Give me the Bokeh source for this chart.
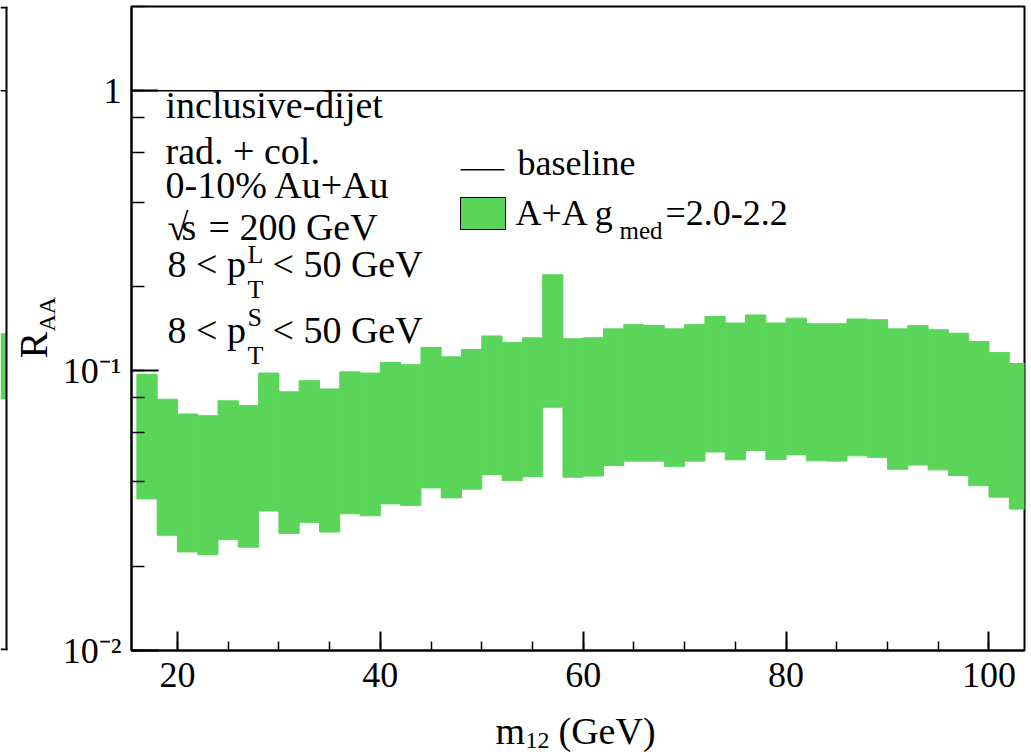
import math
from bokeh.plotting import figure
from bokeh.layouts import row, column
from bokeh.models import Range1d, Label, BoxAnnotation, Span, SingleIntervalTicker, LogTicker
from bokeh.embed import file_html
from bokeh.resources import INLINE

# ---------------- data ----------------
m_lo = [16, 18, 20, 22, 24, 26, 28, 30, 32, 34, 36, 38, 40, 42, 44, 46, 48, 50, 52, 54, 56, 58,
        60, 62, 64, 66, 68, 70, 72, 74, 76, 78, 80, 82, 84, 86, 88, 90, 92, 94, 96, 98, 100, 102]
m_hi = [18, 20, 22, 24, 26, 28, 30, 32, 34, 36, 38, 40, 42, 44, 46, 48, 50, 52, 54, 56, 58, 60,
        62, 64, 66, 68, 70, 72, 74, 76, 78, 80, 82, 84, 86, 88, 90, 92, 94, 96, 98, 100, 102, 104]
raa_hi = [0.097, 0.079, 0.070, 0.069, 0.078, 0.075, 0.098, 0.084, 0.092, 0.086, 0.099, 0.098,
          0.107, 0.105, 0.121, 0.112, 0.119, 0.133, 0.126, 0.131, 0.220, 0.130,
          0.131, 0.141, 0.146, 0.145, 0.141, 0.146, 0.156, 0.148, 0.158, 0.148, 0.154,
          0.147, 0.147, 0.153, 0.152, 0.141, 0.145, 0.140, 0.136, 0.127, 0.116, 0.106]
raa_lo = [0.0348, 0.0258, 0.0225, 0.0220, 0.0249, 0.0234, 0.0315, 0.0262, 0.0287, 0.0265, 0.0308, 0.0303,
          0.0334, 0.0330, 0.0381, 0.0351, 0.0377, 0.0425, 0.0405, 0.0418, 0.0740, 0.0416,
          0.0420, 0.0458, 0.0475, 0.0475, 0.0455, 0.0475, 0.0512, 0.0480, 0.0518, 0.0481, 0.0501,
          0.0476, 0.0475, 0.0496, 0.0490, 0.0444, 0.0460, 0.0442, 0.0422, 0.0388, 0.0353, 0.0320]
baseline_raa = [1.0, 1.0]
x_limits = [15.47, 103.5]
y_limits = [0.01, 2.0]
x_major_interval = 20
y_tick_labels = {0.01: "10⁻²", 0.1: "10⁻¹", 1: "1"}
# neighbouring (cropped) panel at the far left
left_panel_lo = [0.079]
left_panel_hi = [0.136]

GREEN = "#5AD55A"
FONT = "Liberation Serif"

# ---------------- geometry (window pixels) ----------------
W, H = 1031, 756
ROW_H = 705                 # height of the upper row (plot panels)
SIDE_W = 59                 # left strip: cropped neighbour panel + y title
FRAME_L, FRAME_R, FRAME_T, FRAME_B = 129, 1024, 6, 650
BASE_FIX_H = 0.41           # empirical baseline correction (fraction of font size)
BASE_FIX_V = 0.31


def txt(fig, s, x, y, size, fl, fb, vertical=False):
    """text whose baseline starts at window pixel (x, y); fl/fb = window position of fig's frame left/bottom"""
    if vertical:
        x = x - BASE_FIX_V * size
        angle = math.pi / 2
    else:
        y = y - BASE_FIX_H * size
        angle = 0.0
    fig.add_layout(Label(x=x - fl, y=fb - y, x_units="screen", y_units="screen",
                         text=s, text_font=FONT, text_font_size=f"{size}px", text_color="black",
                         text_align="left", text_baseline="alphabetic", angle=angle))


def box(fig, l, t, r, b, fl, fb, fill, line=None, lw=1):
    fig.add_layout(BoxAnnotation(left=l - fl, right=r - fl, top=fb - t, bottom=fb - b,
                                 left_units="screen", right_units="screen",
                                 top_units="screen", bottom_units="screen",
                                 fill_color=fill, fill_alpha=1.0,
                                 line_color=line, line_width=lw, line_alpha=1.0 if line else 0.0))


# ---------------- left strip: cropped neighbour panel + y-axis title ----------------
ps = figure(width=SIDE_W, height=ROW_H, x_range=Range1d(0, SIDE_W), y_range=Range1d(*y_limits),
            y_axis_type="log", output_backend="svg", toolbar_location=None,
            x_axis_location=None, y_axis_location=None,
            min_border_left=0, min_border_right=0, min_border_top=FRAME_T, min_border_bottom=ROW_H - FRAME_B)
ps.grid.visible = False
ps.outline_line_color = None
ps.background_fill_color = "white"
ps.border_fill_color = "white"
ps.quad(left=[0], right=[6], bottom=left_panel_lo, top=left_panel_hi, fill_color=GREEN, line_color=None)
ps.line(x=[0, 6], y=baseline_raa, line_color="black", line_width=1.5)
ps.add_layout(Span(location=6, dimension="height", line_color="black", line_width=2))
box(ps, 0, FRAME_T, 7, FRAME_T + 2, 0, FRAME_B, "black")
box(ps, 0, FRAME_B - 2, 7, FRAME_B, 0, FRAME_B, "black")
txt(ps, "R", 45, 358, 40, 0, FRAME_B, vertical=True)
txt(ps, "AA", 53.5, 331, 24, 0, FRAME_B, vertical=True)

# ---------------- main panel ----------------
p = figure(width=W - SIDE_W, height=ROW_H, x_range=Range1d(*x_limits), y_range=Range1d(*y_limits),
           y_axis_type="log", output_backend="svg", toolbar_location=None,
           min_border_left=FRAME_L - SIDE_W, min_border_right=W - FRAME_R,
           min_border_top=FRAME_T, min_border_bottom=ROW_H - FRAME_B)
p.grid.visible = False
p.outline_line_color = "black"
p.outline_line_width = 2
p.background_fill_color = "white"
p.border_fill_color = "white"

p.quad(left=m_lo, right=m_hi, bottom=raa_lo, top=raa_hi,
       fill_color=GREEN, line_color=GREEN, line_width=1)
p.line(x=x_limits, y=baseline_raa, line_color="black", line_width=1.5)

for ax in (p.xaxis[0], p.yaxis[0]):
    ax.axis_line_color = "black"
    ax.axis_line_width = 2
    ax.major_tick_line_color = "black"
    ax.minor_tick_line_color = "black"
    ax.major_tick_line_width = 2
    ax.minor_tick_line_width = 1.5
    ax.major_tick_out = 0
    ax.minor_tick_out = 0
    ax.major_label_text_font = FONT
    ax.major_label_text_font_size = "36px"
    ax.major_label_text_color = "black"

p.xaxis.ticker = SingleIntervalTicker(interval=x_major_interval, num_minor_ticks=4)
p.xaxis.major_tick_in = 19
p.xaxis.minor_tick_in = 9
p.xaxis.major_label_standoff = 12

p.yaxis.ticker = LogTicker()
p.yaxis.major_tick_in = 27
p.yaxis.minor_tick_in = 13
p.yaxis.major_label_standoff = 10
p.yaxis.major_label_overrides = y_tick_labels

# info text
txt(p, "inclusive-dijet", 163, 120, 38, FRAME_L, FRAME_B)
txt(p, "rad. + col.", 163, 166, 38, FRAME_L, FRAME_B)
txt(p, "0-10% Au+Au", 163, 200, 38, FRAME_L, FRAME_B)
txt(p, "√", 165, 242, 38, FRAME_L, FRAME_B)
txt(p, "s", 179, 242, 38, FRAME_L, FRAME_B)
txt(p, "= 200 GeV", 206, 242, 38, FRAME_L, FRAME_B)
txt(p, "8 < p", 165, 279, 38, FRAME_L, FRAME_B)
txt(p, "L", 245, 265, 26, FRAME_L, FRAME_B)
txt(p, "T", 245, 300, 26, FRAME_L, FRAME_B)
txt(p, "< 50 GeV", 270, 279, 38, FRAME_L, FRAME_B)
txt(p, "8 < p", 165, 345, 38, FRAME_L, FRAME_B)
txt(p, "S", 245, 328, 26, FRAME_L, FRAME_B)
txt(p, "T", 245, 366, 26, FRAME_L, FRAME_B)
txt(p, "< 50 GeV", 270, 345, 38, FRAME_L, FRAME_B)

# legend
box(p, 458, 168.5, 502, 170, FRAME_L, FRAME_B, "black")
txt(p, "baseline", 515, 177, 36, FRAME_L, FRAME_B)
box(p, 458, 197, 503, 229, FRAME_L, FRAME_B, GREEN, line="black", lw=1)
txt(p, "A+A g", 513, 227, 36, FRAME_L, FRAME_B)
txt(p, "med", 617, 240, 25, FRAME_L, FRAME_B)
txt(p, "=2.0-2.2", 663, 227, 36, FRAME_L, FRAME_B)

# ---------------- bottom strip: x-axis title ----------------
pb = figure(width=W, height=H - ROW_H, x_range=Range1d(0, W), y_range=Range1d(0, H - ROW_H),
            output_backend="svg", toolbar_location=None,
            x_axis_location=None, y_axis_location=None,
            min_border_left=0, min_border_right=0, min_border_top=0, min_border_bottom=0)
pb.grid.visible = False
pb.outline_line_color = None
pb.background_fill_color = "white"
pb.border_fill_color = "white"
txt(pb, "m", 495, 746, 38, 0, H)
txt(pb, "12", 525, 750, 24, 0, H)
txt(pb, "(GeV)", 558, 746, 38, 0, H)

layout = column(row(ps, p), pb)
open("out.html", "w").write(file_html(layout, INLINE))
